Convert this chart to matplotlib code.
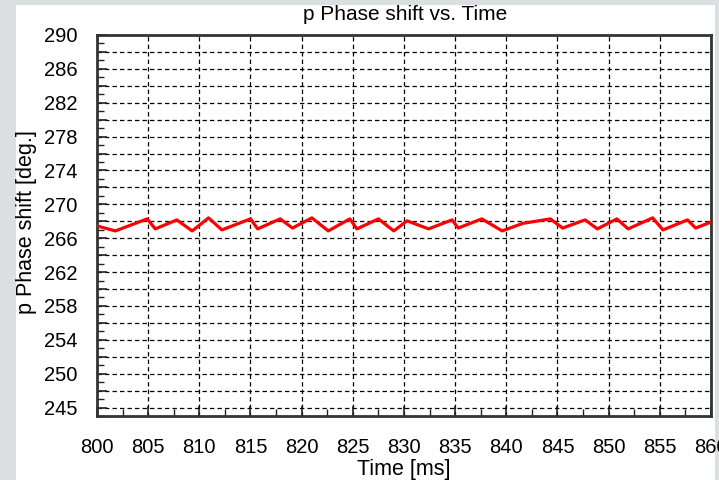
import matplotlib
matplotlib.use("Agg")
import matplotlib.pyplot as plt
from matplotlib.patches import Rectangle
from matplotlib.ticker import MultipleLocator

plt.rcParams['font.family'] = ['Liberation Sans', 'DejaVu Sans']

# zigzag trace of the phase shift (ms, deg.)
time_ms = [800.0, 801.8, 804.9, 805.7, 807.8, 809.3, 810.9, 812.2, 815.0, 815.7,
           817.9, 819.1, 821.0, 822.6, 824.7, 825.4, 827.5, 829.0, 830.3, 832.4,
           834.7, 835.3, 837.6, 839.6, 841.6, 844.3, 845.5, 847.7, 848.9, 850.8,
           851.9, 854.3, 855.3, 857.7, 858.5, 860.0]
phase_deg = [267.45, 266.86, 268.28, 267.10, 268.16, 266.86, 268.40, 266.98, 268.28, 267.10,
             268.28, 267.20, 268.40, 266.86, 268.28, 267.10, 268.28, 266.86, 268.05, 267.10,
             268.16, 267.20, 268.28, 266.86, 267.75, 268.28, 267.20, 268.16, 267.10, 268.28,
             267.10, 268.40, 266.98, 268.16, 267.20, 267.90]

x_ticks = list(range(800, 861, 5))
y_grid = list(range(246, 291, 2))
y_labels = ["245", "", "250", "", "254", "", "258", "", "262", "", "266", "", "270",
            "", "274", "", "278", "", "282", "", "286", "", "290"]

W, H = 719, 480
fig = plt.figure(figsize=(W / 100, H / 100), dpi=100)
fig.patch.set_facecolor('#dcdfe2')

# white panel behind the plot
bg = fig.add_axes([0, 0, 1, 1], zorder=-10)
bg.set_axis_off()
bg.set_xlim(0, W)
bg.set_ylim(H, 0)
bg.add_patch(Rectangle((16, 5), 715 - 16, H - 5, facecolor='white', edgecolor='none'))

ax = fig.add_axes([97 / W, 1 - 416 / H, (711 - 97) / W, (416 - 35) / H], zorder=1)
ax.set_facecolor('white')

ax.plot(time_ms, phase_deg, color='red', lw=2.3, zorder=3)

ax.set_xlim(800, 860)
ax.set_ylim(245, 290)
ax.set_xticks(x_ticks)
ax.set_xticklabels([str(t) for t in x_ticks])
ax.xaxis.set_minor_locator(MultipleLocator(2.5))
ax.set_yticks(y_grid)
ax.set_yticklabels(y_labels)
ax.yaxis.set_minor_locator(MultipleLocator(1))

ax.grid(True, which='major', color='black', linestyle=(0, (3.5, 2.5)), lw=0.9)
ax.tick_params(which='both', direction='in', color='#222222')
ax.tick_params(which='major', length=7, width=1.2, labelsize=14.5)
ax.tick_params(which='minor', length=5, width=1.0)
ax.tick_params(axis='y', which='major', pad=14)
ax.tick_params(axis='x', which='major', pad=16)

for s in ax.spines.values():
    s.set_linewidth(2.0)
    s.set_color('#333333')

fig.text(405 / W, 1 - 15 / H, "p Phase shift vs. Time", fontsize=15,
         ha='center', va='center')
fig.text(404 / W, 1 - 470 / H, "Time [ms]", fontsize=15.5, ha='center', va='center')
fig.text(27 / W, 1 - 222 / H, "p Phase shift [deg.]", fontsize=15.5,
         ha='center', va='center', rotation=90)

fig.savefig("out.png", dpi=100, facecolor=fig.get_facecolor())
